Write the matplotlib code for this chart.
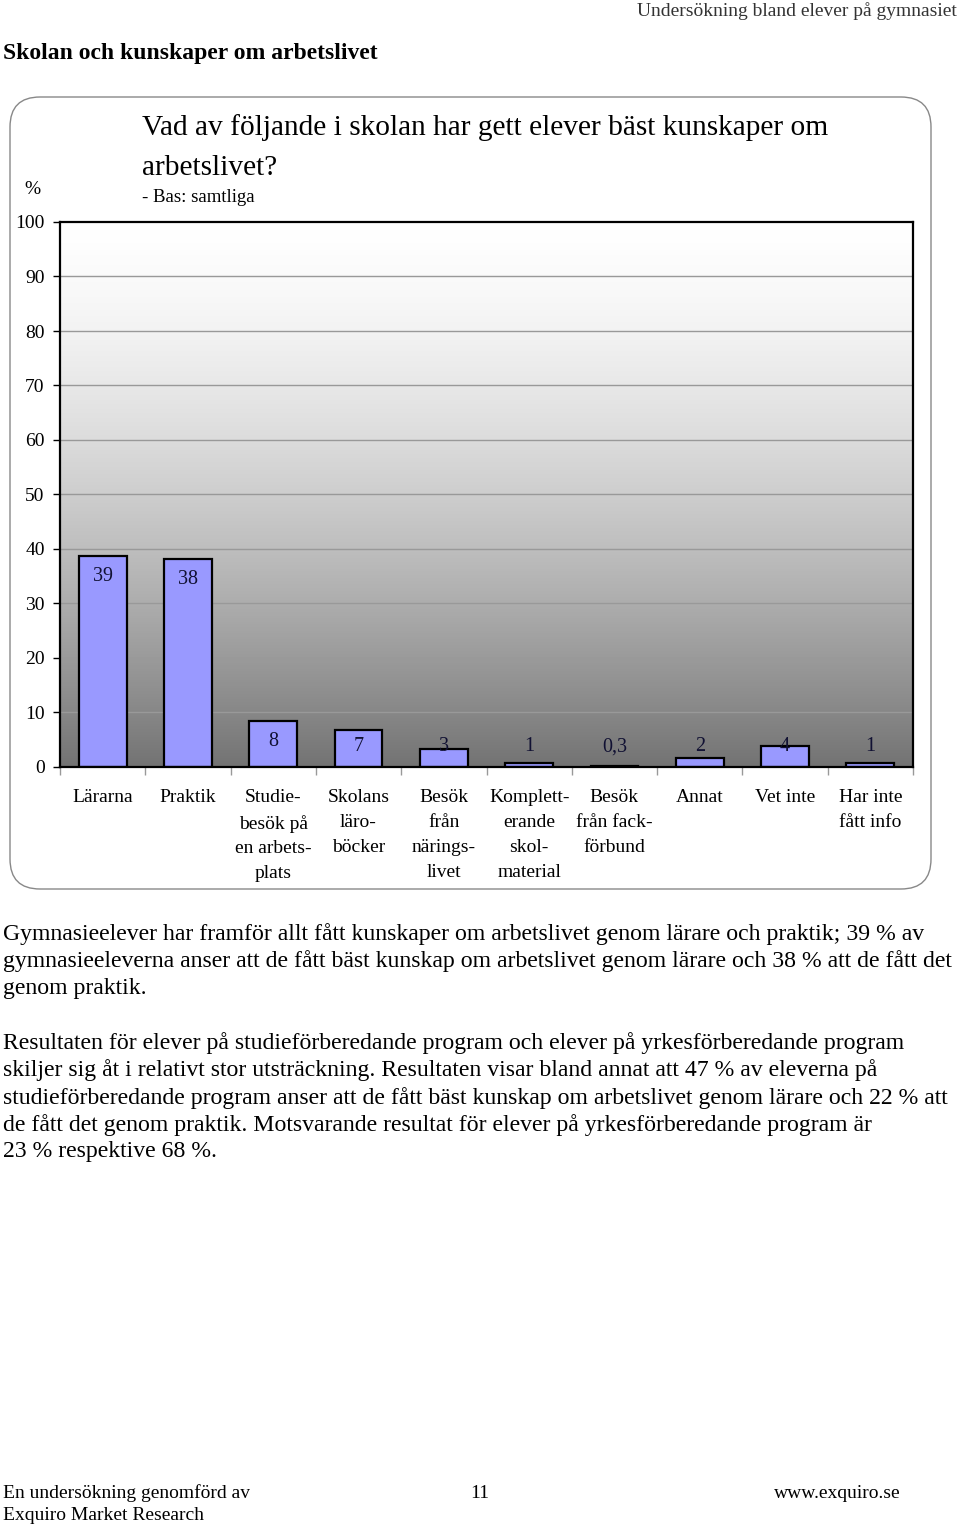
import matplotlib.pyplot as plt
import numpy as np
from matplotlib.patches import FancyBboxPatch

plt.rcParams['font.family'] = ['Liberation Serif', 'DejaVu Serif']

categories = ['Lärarna', 'Praktik', 'Studie-\nbesök på\nen arbets-\nplats', 'Skolans\nläro-\nböcker',
              'Besök\nfrån\nnärings-\nlivet', 'Komplett-\nerande\nskol-\nmaterial', 'Besök\nfrån fack-\nförbund',
              'Annat', 'Vet inte', 'Har inte\nfått info']
values = [38.8, 38.2, 8.5, 6.8, 3.3, 0.8, 0.25, 1.6, 3.8, 0.8]
value_labels = ['39', '38', '8', '7', '3', '1', '0,3', '2', '4', '1']
yticks = [0, 10, 20, 30, 40, 50, 60, 70, 80, 90, 100]

W, H = 960, 1528
fig = plt.figure(figsize=(W / 100, H / 100), dpi=100)


def px(x, y):
    return x / W, 1 - y / H


# rounded frame around the chart
frame = FancyBboxPatch((0.10, (H - 889) / 100), 9.21, 7.92,
                       boxstyle='round,pad=0,rounding_size=0.3',
                       transform=fig.dpi_scale_trans, facecolor='none',
                       edgecolor='#888888', linewidth=1.0, zorder=-1)
fig.patches.append(frame)

l, b = px(60, 767)
r, t = px(913, 222)
ax = fig.add_axes([l, b, r - l, t - b])

x = np.arange(len(categories))

# grey gradient background, white at the top
tt = np.linspace(0, 1, 256)[:, None]
grad = (255 - 140 * tt ** 1.5) / 255
ax.imshow(np.dstack([grad, grad, grad]), extent=[-0.5, 9.5, 0, 100], origin='upper',
          aspect='auto', zorder=0)

for yv in yticks[1:-1]:
    ax.axhline(yv, color='#999999', linewidth=1.0, zorder=1)

ax.bar(x, values, width=0.56, color='#9999ff', edgecolor='black', linewidth=1.6, zorder=2)

for xi, v, lab in zip(x, values, value_labels):
    ax.text(xi, max(v - 3.8, 3.7), lab, ha='center', va='center', fontsize=14.5, color='#111133', zorder=3)

ax.set_xlim(-0.5, 9.5)
ax.set_ylim(0, 100)
ax.set_yticks(yticks)
ax.set_yticklabels([str(v) for v in yticks], fontsize=14)
ax.set_xticks(np.arange(-0.5, 10, 1))
ax.set_xticklabels([])
ax.tick_params(axis='x', length=6, color='#999999', width=1)
ax.tick_params(axis='y', length=5, width=1, pad=6)
for xi, c in zip(x, categories):
    ax.text(xi, -4.1, c, ha='center', va='top', fontsize=14, linespacing=1.6, clip_on=False)
for s in ax.spines.values():
    s.set_linewidth(1.6)
    s.set_color('black')

# texts
fig.text(*px(957, 11), 'Undersökning bland elever på gymnasiet', ha='right', va='center', fontsize=14, color='#333333')
fig.text(*px(3, 54), 'Skolan och kunskaper om arbetslivet', ha='left', va='center', fontsize=17, fontweight='bold')
fig.text(*px(142, 128), 'Vad av följande i skolan har gett elever bäst kunskaper om', ha='left', va='center', fontsize=21.2)
fig.text(*px(142, 168), 'arbetslivet?', ha='left', va='center', fontsize=21.2)
fig.text(*px(142, 197), '- Bas: samtliga', ha='left', va='center', fontsize=13.5)
fig.text(*px(32, 189), '%', ha='center', va='center', fontsize=14)

para = [
    (934, 'Gymnasieelever har framför allt fått kunskaper om arbetslivet genom lärare och praktik; 39 % av'),
    (961, 'gymnasieeleverna anser att de fått bäst kunskap om arbetslivet genom lärare och 38 % att de fått det'),
    (988, 'genom praktik.'),
    (1043, 'Resultaten för elever på studieförberedande program och elever på yrkesförberedande program'),
    (1070, 'skiljer sig åt i relativt stor utsträckning. Resultaten visar bland annat att 47 % av eleverna på'),
    (1098, 'studieförberedande program anser att de fått bäst kunskap om arbetslivet genom lärare och 22 % att'),
    (1125, 'de fått det genom praktik. Motsvarande resultat för elever på yrkesförberedande program är'),
    (1152, '23 % respektive 68 %.'),
]
for yy, line in para:
    fig.text(*px(3, yy), line, ha='left', va='center', fontsize=17.1)

fig.text(*px(3, 1493), 'En undersökning genomförd av', ha='left', va='center', fontsize=14)
fig.text(*px(3, 1516), 'Exquiro Market Research', ha='left', va='center', fontsize=14)
fig.text(*px(480, 1493), '11', ha='center', va='center', fontsize=14)
fig.text(*px(901, 1493), 'www.exquiro.se', ha='right', va='center', fontsize=14)

fig.savefig('out.png', dpi=100)
